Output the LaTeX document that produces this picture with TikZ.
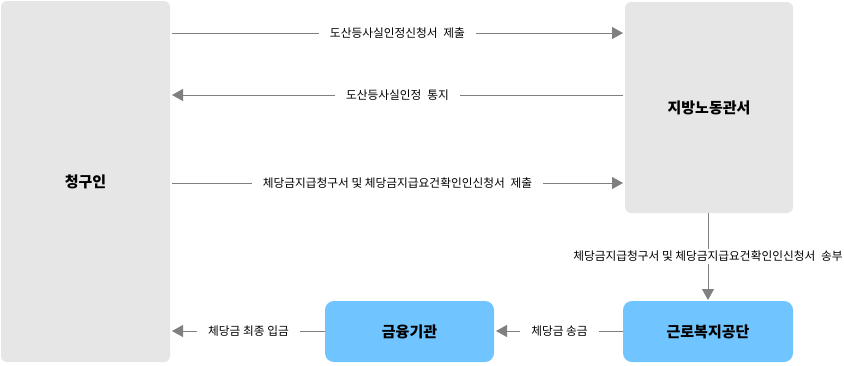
\documentclass[tikz,border=0pt]{standalone}
\usepackage{fontspec}
\setmainfont{Noto Sans CJK KR}
\usetikzlibrary{arrows.meta}
\definecolor{boxgray}{HTML}{E6E6E6}
\definecolor{boxblue}{HTML}{70C4FF}
\definecolor{linegray}{HTML}{808080}
\newcommand{\wsp}{\hspace{0.5em}}
\tikzset{
  graybox/.style={fill=boxgray, rounded corners=6pt, draw=none, font=\fontsize{15}{17}\selectfont\bfseries},
  bluebox/.style={fill=boxblue, rounded corners=9pt, draw=none, font=\fontsize{15}{17}\selectfont\bfseries},
  conn/.style={draw=linegray, line width=1pt, -{Triangle[length=11pt,width=12pt]}},
  lbl/.style={fill=white, inner xsep=11pt, inner ysep=2pt, font=\fontsize{11.7}{13}\selectfont}
}
\begin{document}
\begin{tikzpicture}[x=1pt,y=-1pt]
\useasboundingbox (0,0) rectangle (844,365);
\path[graybox] (1,1) rectangle node (A) {청구인} (170,362);
\path[graybox] (625,2) rectangle node (B) {지방노동관서} (793,213);
\path[bluebox] (623,301) rectangle node (C) {근로복지공단} (793,362);
\path[bluebox] (325,301) rectangle node (D) {금융기관} (494,362);
% anchors
\coordinate (a1) at (172,33); \coordinate (b1) at (623,33);
\coordinate (a2) at (172,95); \coordinate (b2) at (623,95);
\coordinate (a3) at (172,183); \coordinate (b3) at (623,183);
\coordinate (b4) at (708,213); \coordinate (c4) at (708,300);
\coordinate (c5) at (623,331); \coordinate (d5) at (496,331);
\coordinate (d6) at (325,331); \coordinate (a6) at (172,331);
\draw[conn] (a1) -- node[lbl, pos=0.5] {도산등사실인정신청서\wsp 제출} (b1);
\draw[conn] (b2) -- node[lbl, pos=0.5] {도산등사실인정\wsp 통지} (a2);
\draw[conn] (a3) -- node[lbl, pos=0.5] {체당금지급청구서 및 체당금지급요건확인인신청서\wsp 제출} (b3);
\draw[conn] (b4) -- node[lbl, pos=0.5, inner xsep=2pt] {체당금지급청구서 및 체당금지급요건확인인신청서\wsp 송부} (c4);
\draw[conn] (c5) -- node[lbl, pos=0.5] {체당금 송금} (d5);
\draw[conn] (d6) -- node[lbl, pos=0.5] {체당금 최종 입금} (a6);
\end{tikzpicture}
\end{document}
